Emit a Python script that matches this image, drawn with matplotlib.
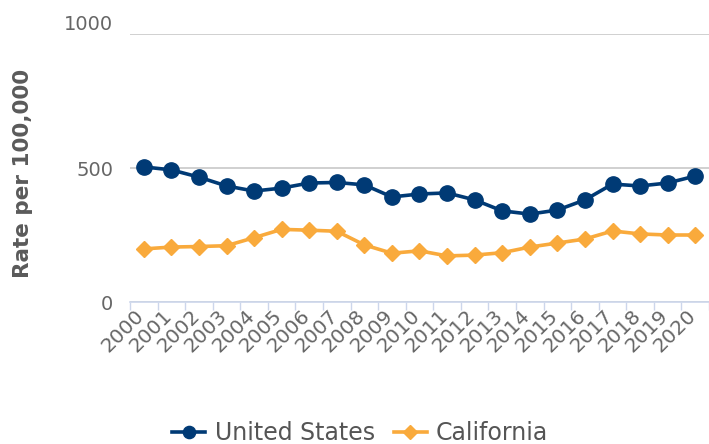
import numpy as np
import matplotlib.pyplot as plt
import matplotlib.transforms as mtransforms

years = [str(y) for y in range(2000, 2021)]
us_rate = [504, 493, 466, 433, 414, 425, 444, 446, 437, 392, 403, 407,
           381, 340, 328, 343, 381, 440, 433, 444, 470]
ca_rate = [198, 205, 207, 210, 240, 271, 268, 264, 213, 182, 191, 172,
           175, 184, 205, 220, 235, 265, 254, 250, 250]
y_ticks = [0, 500, 1000]

navy = '#003a75'
orange = '#f9aa3c'
grey = '#666666'

plt.rcParams['font.family'] = ['DejaVu Sans']

fig = plt.figure(figsize=(7.09, 4.44), dpi=100)
ax = fig.add_axes([130 / 709, 1 - 302 / 444, 579 / 709, 268 / 444])

x = np.arange(len(years))
ax.plot(x, us_rate, color=navy, lw=2.6, marker='o', ms=11, label='United States',
        zorder=3)
ax.plot(x, ca_rate, color=orange, lw=2.6, marker='D', ms=8.5, label='California',
        zorder=3)

ax.set_xlim(-0.5, len(years) - 0.5)
ax.set_ylim(0, 1000)

# category axis: labels at centres, tick marks at boundaries
ax.set_xticks(x)
ax.set_xticklabels(years, rotation=45, ha='right', va='top',
                   rotation_mode='anchor', fontsize=14.5, color=grey)
ax.tick_params(axis='x', which='major', length=0, pad=3)
shift = mtransforms.ScaledTranslation(-9 / 100, 0, fig.dpi_scale_trans)
for lab in ax.get_xticklabels():
    lab.set_transform(lab.get_transform() + shift)
ax.set_xticks(np.arange(-0.5, len(years)), minor=True)
ax.tick_params(axis='x', which='minor', length=6, color='#ccd6eb', width=1)

ax.set_yticks(y_ticks)
ax.set_yticklabels([str(v) for v in y_ticks], fontsize=14, color=grey)
ax.tick_params(axis='y', length=0, pad=12)
ax.yaxis.grid(True, color='#c8c8c8', lw=1.2)
ax.set_axisbelow(True)

# top label sits above its grid line
top = ax.get_yticklabels()[-1]
top.set_transform(top.get_transform() +
                  mtransforms.ScaledTranslation(0, 12 / 100, fig.dpi_scale_trans))

for s in ['left', 'right', 'top']:
    ax.spines[s].set_visible(False)
ax.spines['bottom'].set_color('#ccd6eb')
ax.spines['bottom'].set_linewidth(1.2)

ax.set_ylabel('Rate per 100,000', fontsize=15.5, color='#5a5a5a',
              fontweight='bold')
ax.yaxis.set_label_coords(-0.1675, 0.48)

fig.legend(loc='center', bbox_to_anchor=(0.508, 1 - 433 / 444), ncol=2,
           frameon=False, fontsize=17, labelcolor='#555555', handlelength=1.4,
           columnspacing=0.8, handletextpad=0.4, markerscale=0.8)

fig.savefig('out.png', dpi=100)
